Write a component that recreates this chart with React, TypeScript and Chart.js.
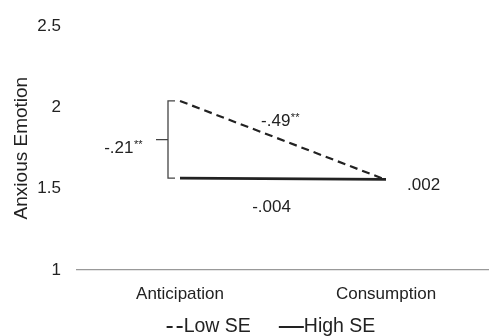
import React, { useEffect, useRef } from "react";
import { Chart, registerables } from "chart.js";

Chart.register(...registerables);

const categories = ["Anticipation", "Consumption"];
const lowSE = [2.04, 1.555];
const highSE = [1.565, 1.558];
const yTicks = [1, 1.5, 2, 2.5];
const seriesNames = ["Low SE", "High SE"];
const labelLowSlope = ["-.49", "**"];
const labelHighSlope = ["-.004", ""];
const labelDiffAnt = ["-.21", "**"];
const labelDiffCons = [".002", ""];

const FONT = "'Liberation Sans', Arial, Helvetica, sans-serif";
const INK = "#222";

function drawStarred(ctx: any, parts: string[], x: number, y: number, align: "left" | "center" | "right") {
  ctx.font = `17px ${FONT}`;
  const w1 = ctx.measureText(parts[0]).width;
  ctx.font = `11px ${FONT}`;
  const w2 = parts[1] ? ctx.measureText(parts[1]).width : 0;
  const total = w1 + w2;
  let sx = x;
  if (align === "center") sx = x - total / 2;
  if (align === "right") sx = x - total;
  ctx.textAlign = "left";
  ctx.textBaseline = "alphabetic";
  ctx.font = `17px ${FONT}`;
  ctx.fillText(parts[0], sx, y + 6);
  if (parts[1]) {
    ctx.font = `11px ${FONT}`;
    ctx.fillText(parts[1], sx + w1 + 0.5, y + 1);
  }
}

const annotations = {
  id: "annotations",
  afterDatasetsDraw(chart: any) {
    const { ctx, scales } = chart;
    const x = scales.x;
    const y = scales.y;
    const x0 = x.getPixelForValue(0);
    const x1 = x.getPixelForValue(1);
    const yLow0 = y.getPixelForValue(lowSE[0]);
    const yHigh0 = y.getPixelForValue(highSE[0]);
    const yLow1 = y.getPixelForValue(lowSE[1]);
    const yHigh1 = y.getPixelForValue(highSE[1]);
    ctx.save();
    const bx = x0 - 12;
    const my = (yLow0 + yHigh0) / 2;
    ctx.strokeStyle = "#444";
    ctx.lineWidth = 1.3;
    ctx.beginPath();
    ctx.moveTo(x0 - 5, yLow0);
    ctx.lineTo(bx, yLow0);
    ctx.lineTo(bx, yHigh0);
    ctx.lineTo(x0 - 5, yHigh0);
    ctx.moveTo(bx, my);
    ctx.lineTo(bx - 12, my);
    ctx.stroke();
    ctx.fillStyle = INK;
    drawStarred(ctx, labelDiffAnt, bx - 26, my + 7.5, "right");
    drawStarred(ctx, labelDiffCons, x1 + 21, yLow1 + 4.5, "left");
    const midx = (x0 + x1) / 2;
    drawStarred(ctx, labelLowSlope, midx - 3, (yLow0 + yLow1) / 2 - 20.5, "center");
    drawStarred(ctx, labelHighSlope, midx - 11.5, (yHigh0 + yHigh1) / 2 + 27, "center");

    // legend
    ctx.font = `19.5px ${FONT}`;
    const t1 = ctx.measureText(seriesNames[0]).width;
    const t2 = ctx.measureText(seriesNames[1]).width;
    const s1 = 16, s2 = 25, gapIn = 1, gapOut = 28;
    const total = s1 + gapIn + t1 + gapOut + s2 + t2;
    const ca = chart.chartArea;
    let lx = (ca.left + ca.right) / 2 - total / 2 - 12;
    const ly = 327;
    ctx.strokeStyle = INK;
    ctx.lineWidth = 2;
    ctx.setLineDash([6, 4]);
    ctx.beginPath();
    ctx.moveTo(lx, ly);
    ctx.lineTo(lx + s1, ly);
    ctx.stroke();
    ctx.setLineDash([]);
    ctx.fillStyle = INK;
    ctx.textAlign = "left";
    ctx.textBaseline = "middle";
    ctx.fillText(seriesNames[0], lx + s1 + gapIn, ly);
    lx += s1 + gapIn + t1 + gapOut;
    ctx.beginPath();
    ctx.moveTo(lx, ly);
    ctx.lineTo(lx + s2, ly);
    ctx.stroke();
    ctx.fillText(seriesNames[1], lx + s2, ly);
    ctx.restore();
  },
};

export default function App() {
  const ref = useRef<HTMLCanvasElement | null>(null);
  useEffect(() => {
    document.body.style.margin = "0";
    const chart = new Chart(ref.current!, {
      type: "line",
      data: {
        labels: categories,
        datasets: [
          {
            label: seriesNames[0],
            data: lowSE,
            borderColor: INK,
            backgroundColor: INK,
            borderWidth: 2.2,
            borderDash: [8, 5],
            pointRadius: 0,
            fill: false,
          },
          {
            label: seriesNames[1],
            data: highSE,
            borderColor: INK,
            backgroundColor: INK,
            borderWidth: 2.8,
            pointRadius: 0,
            fill: false,
          },
        ],
      },
      options: {
        animation: false,
        responsive: false,
        layout: { padding: { top: 19, right: 0, left: 10, bottom: 30 } },
        plugins: {
          tooltip: { enabled: false },
          legend: { display: false },
        },
        scales: {
          x: {
            type: "category",
            offset: true,
            grid: { display: false, drawTicks: false },
            border: { display: true, color: "#999", width: 1.2 },
            ticks: { color: INK, font: { family: FONT, size: 17 }, padding: 14 },
            afterFit: (axis: any) => {
              axis.height = 36;
            },
          },
          y: {
            min: 1,
            max: 2.5,
            afterBuildTicks: (axis: any) => {
              axis.ticks = yTicks.map((v) => ({ value: v }));
            },
            grid: { display: false, drawTicks: false },
            border: { display: false },
            ticks: {
              color: INK,
              font: { family: FONT, size: 17 },
              padding: 16,
              callback: (v: any) => String(v),
            },
            title: {
              display: true,
              text: "Anxious Emotion",
              color: INK,
              font: { family: FONT, size: 19 },
              padding: { top: 0, bottom: 0 },
            },
            afterFit: (axis: any) => {
              axis.width = 67;
            },
          },
        },
      },
      plugins: [annotations],
    });
    return () => chart.destroy();
  }, []);
  return (
    <div style={{ width: 489, height: 336 }}>
      <canvas ref={ref} width={489} height={336} />
    </div>
  );
}
